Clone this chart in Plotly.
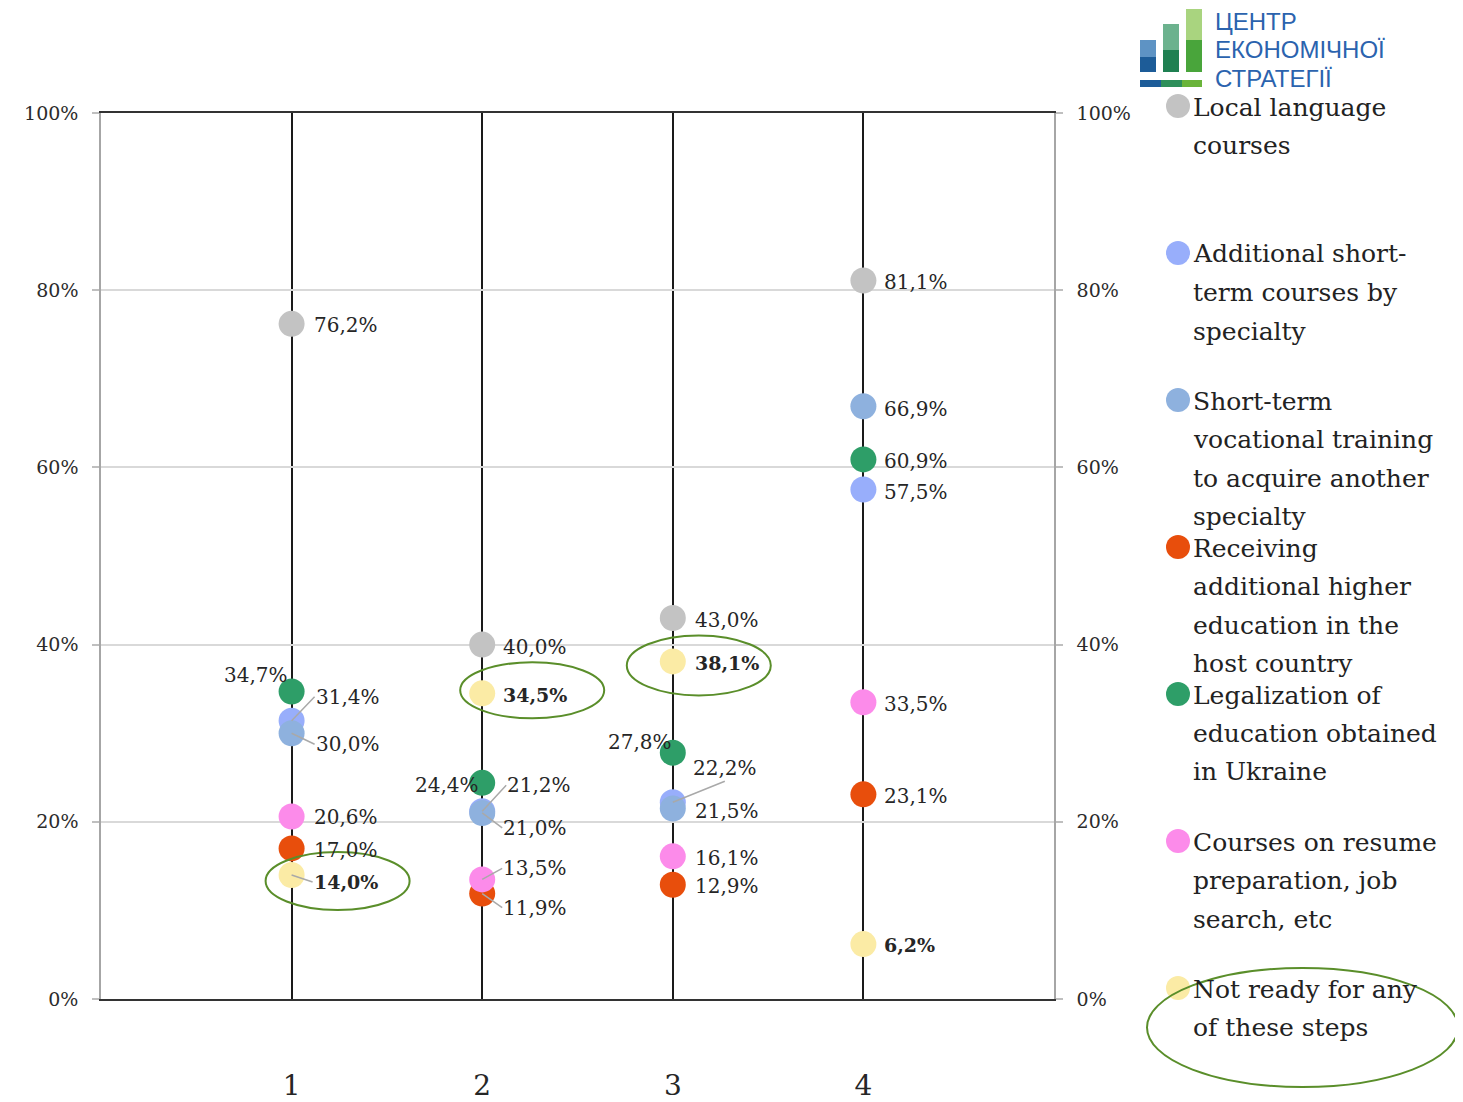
import plotly.graph_objects as go

# ---------------- data ----------------
categories = [1, 2, 3, 4]
series_names = [
    "Local language courses",
    "Additional short-term courses by specialty",
    "Short-term vocational training to acquire another specialty",
    "Receiving additional higher education in the host country",
    "Legalization of education obtained in Ukraine",
    "Courses on resume preparation, job search, etc",
    "Not ready for any of these steps",
]
local_language = [76.2, 40.0, 43.0, 81.1]
additional_short = [31.4, 21.2, 22.2, 57.5]
vocational = [30.0, 21.0, 21.5, 66.9]
higher_education = [17.0, 11.9, 12.9, 23.1]
legalization = [34.7, 24.4, 27.8, 60.9]
resume_courses = [20.6, 13.5, 16.1, 33.5]
not_ready = [14.0, 34.5, 38.1, 6.2]
y_ticks = [0, 20, 40, 60, 80, 100]
y_tick_text = ["0%", "20%", "40%", "60%", "80%", "100%"]

legend_lines = [
    ["Local language", "courses"],
    ["Additional short-", "term courses by", "specialty"],
    ["Short-term", "vocational training", "to acquire another", "specialty"],
    ["Receiving", "additional higher", "education in the", "host country"],
    ["Legalization of", "education obtained", "in Ukraine"],
    ["Courses on resume", "preparation, job", "search, etc"],
    ["Not ready for any", "of these steps"],
]
logo_lines = ["ЦЕНТР", "ЕКОНОМІЧНОЇ", "СТРАТЕГІЇ"]

all_series = [local_language, additional_short, vocational, higher_education,
              legalization, resume_courses, not_ready]

# ---------------- styles ----------------
colors = ["#C3C3C3", "#98AEFB", "#8EB1DE", "#E84E0C", "#2E9E68", "#FC8BEA", "#FBEBA5"]
FONT = "DejaVu Serif"
TXT = "#262626"

# label offsets (dx, dy in screen px, anchor, leader line) per series per category
label_pos = [
    [(21, 1, "left", False), (20, 2, "left", False), (21, 2, "left", False), (20, 2, "left", False)],
    [(23, -24, "left", True), (24, -26, "left", True), (52, -21, "cb", True), (20, 2, "left", False)],
    [(23, 11, "left", True), (20, 15, "left", True), (21, 2, "left", False), (20, 3, "left", False)],
    [(21, 2, "left", False), (20, 14, "left", True), (21, 1, "left", False), (20, 2, "left", False)],
    [(-3, -17, "right", False), (-2, 2, "right", False), (0, -11, "right", False), (20, 2, "left", False)],
    [(21, 1, "left", False), (20, -11, "left", True), (21, 2, "left", False), (20, 2, "left", False)],
    [(21, 7, "left", True), (20, 2, "left", False), (21, 2, "left", False), (20, 1, "left", False)],
]

# page is shown with an 8px body margin; figure size compensates
OFF = 8
W, H = 1463 - OFF, 1102 - OFF
# plot area in page pixels
PL, PR, PT, PB = 101, 1054, 113, 999


def xp(px):
    return (px - PL) / (PR - PL)


def yp(py):
    return (PB - py) / (PB - PT)


fig = go.Figure()

for name, vals, col in zip(series_names, all_series, colors):
    fig.add_trace(go.Scatter(
        x=categories, y=vals, mode="markers", name=name,
        marker=dict(size=26, color=col, line=dict(width=0)),
        showlegend=False, hoverinfo="skip",
    ))

# invisible trace to materialise the right axis
fig.add_trace(go.Scatter(x=categories, y=local_language, yaxis="y2", mode="markers",
                         marker=dict(opacity=0), showlegend=False, hoverinfo="skip"))

annotations = []
for si, vals in enumerate(all_series):
    for ci, v in enumerate(vals):
        dx, dy, anc, leader = label_pos[si][ci]
        txt = f"{v:.1f}".replace(".", ",") + "%"
        if si == 6:
            txt = f"<b>{txt}</b>"
        fsize = 19 if si == 6 else 20
        if leader:
            xa, ya = ("center", "bottom") if anc == "cb" else (anc, "middle")
            annotations.append(dict(
                x=categories[ci], y=v, xref="x", yref="y", text=txt,
                showarrow=True, ax=dx, ay=dy, arrowhead=0, arrowwidth=1.5,
                arrowcolor="#A9A9A9", standoff=0, startstandoff=0,
                xanchor=xa, yanchor=ya, borderpad=0,
                font=dict(family=FONT, size=fsize, color=TXT)))
        else:
            annotations.append(dict(
                x=categories[ci], y=v, xref="x", yref="y", text=txt,
                showarrow=False, xshift=dx, yshift=-dy,
                xanchor=anc, yanchor="middle", borderpad=0,
                font=dict(family=FONT, size=fsize, color=TXT)))

# legend (manual, equal-height entries)
LEG_MX, LEG_TX, LEG_Y0, LEG_STEP, LEG_LINE = 1178, 1192, 106, 147, 38.5
shapes = []
for i, lines in enumerate(legend_lines):
    yc = LEG_Y0 + i * LEG_STEP
    shapes.append(dict(type="circle", xref="paper", yref="paper",
                       xsizemode="pixel", ysizemode="pixel",
                       xanchor=xp(LEG_MX), yanchor=yp(yc),
                       x0=-12, x1=12, y0=-12, y1=12,
                       fillcolor=colors[i], line=dict(width=0)))
    for j, ln in enumerate(lines):
        annotations.append(dict(
            x=xp(LEG_TX), y=yp(yc + 1 + j * LEG_LINE), xref="paper", yref="paper",
            text=ln, showarrow=False, xanchor="left", yanchor="middle", borderpad=0,
            font=dict(family=FONT, size=25, color="#222222")))

# green highlight ellipses around "not ready" labels
ell = dict(color="#5A8E2A", width=2)
ellipse_specs = [(0, -26, 118, -35, 23), (1, -22, 122, -25, 31), (2, -46, 98, -34, 26)]
for ci, x0, x1, y0, y1 in ellipse_specs:
    shapes.append(dict(type="circle", xref="x", yref="y", xsizemode="pixel", ysizemode="pixel",
                       xanchor=categories[ci], yanchor=not_ready[ci],
                       x0=x0, x1=x1, y0=y0, y1=y1, line=ell, fillcolor="rgba(0,0,0,0)"))
shapes.append(dict(type="circle", xref="paper", yref="paper",
                   x0=xp(1147), x1=xp(1458), y0=yp(1087), y1=yp(968),
                   line=ell, fillcolor="rgba(0,0,0,0)"))

# logo bars
logo_rects = [
    (1140, 1156, 40, 57, "#5E93C4"), (1140, 1156, 57, 72, "#1D5C98"),
    (1163, 1179, 24, 50, "#6CB28E"), (1163, 1179, 50, 72, "#1F8052"),
    (1186, 1202, 9, 40, "#A9D47F"), (1186, 1202, 40, 72, "#49A53B"),
    (1140, 1161, 80, 87, "#1D5C98"), (1161, 1182, 80, 87, "#2E8F5A"),
    (1182, 1202, 80, 87, "#6AB43A"),
]
for x0, x1, y0, y1, c in logo_rects:
    shapes.append(dict(type="rect", xref="paper", yref="paper",
                       x0=xp(x0), x1=xp(x1), y0=yp(y1), y1=yp(y0),
                       fillcolor=c, line=dict(width=0)))
for j, ln in enumerate(logo_lines):
    annotations.append(dict(
        x=xp(1214), y=yp(21.5 + j * 28.25), xref="paper", yref="paper", text=ln,
        showarrow=False, xanchor="left", yanchor="middle", borderpad=0,
        font=dict(family="Liberation Sans", size=24, color="#2B63AE")))

axis_y = dict(range=[0, 100], tickmode="array", tickvals=y_ticks, ticktext=y_tick_text,
              ticks="outside", ticklen=7, tickcolor="#BFBFBF", tickwidth=1.5, showline=True,
              linecolor="#A6A6A6", linewidth=1.5, zeroline=False,
              tickfont=dict(family=FONT, size=19, color="#2B2B2B"),
              ticklabelstandoff=10, fixedrange=True)

fig.update_layout(
    width=W, height=H,
    margin=dict(l=PL - OFF, r=W - (PR - OFF), t=PT - OFF, b=H - (PB - OFF), autoexpand=False),
    paper_bgcolor="white", plot_bgcolor="white",
    font=dict(family=FONT, color=TXT),
    xaxis=dict(range=[0, 5], tickmode="array", tickvals=categories,
               ticktext=[str(c) for c in categories],
               showgrid=True, gridcolor="#1A1A1A", gridwidth=2, zeroline=False,
               showline=True, linecolor="#333333", linewidth=2, mirror=True,
               ticks="", ticklabelstandoff=60,
               tickfont=dict(family=FONT, size=28, color="#262626"), fixedrange=True),
    yaxis=dict(**axis_y, showgrid=True, gridcolor="#D9D9D9", gridwidth=1.5, side="left"),
    yaxis2=dict(**axis_y, showgrid=False, overlaying="y", side="right"),
    showlegend=False,
    annotations=annotations,
    shapes=shapes,
)

fig.write_html("out.html")
